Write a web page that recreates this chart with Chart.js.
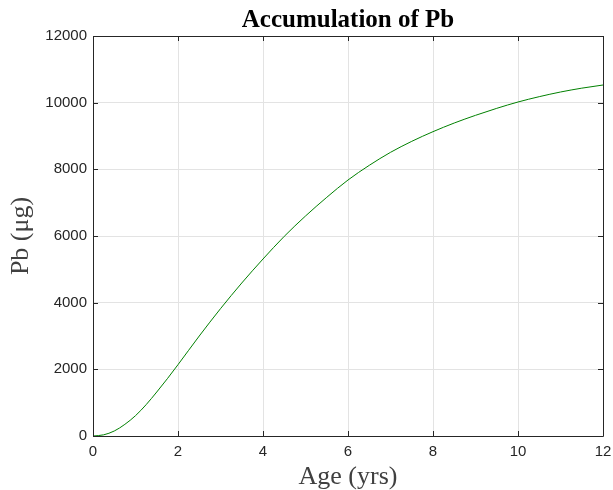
<!DOCTYPE html>
<html>
<head>
<meta charset="utf-8">
<script src="https://cdn.jsdelivr.net/npm/chart.js@4.4.1/dist/chart.umd.min.js"></script>
<style>
  html, body { margin: 0; padding: 0; background: #ffffff; }
  #wrap { width: 613px; height: 490px; position: relative; }
</style>
</head>
<body>
<div id="wrap"><canvas id="c" width="613" height="490"></canvas></div>
<script>
// ---- data ----
const ageYears = [0, 0.25, 0.5, 0.75, 1, 1.25, 1.5, 1.75, 2, 2.5, 3, 3.5, 4, 4.5, 5, 5.5, 6, 6.5, 7, 7.5, 8, 8.5, 9, 9.5, 10, 10.5, 11, 11.5, 12];
const leadUg   = [0, 35, 150, 350, 610, 940, 1320, 1720, 2140, 3000, 3820, 4590, 5310, 5990, 6600, 7160, 7680, 8120, 8510, 8840, 9130, 9390, 9620, 9830, 10020, 10180, 10320, 10435, 10530];
const xTicks = [0, 2, 4, 6, 8, 10, 12];
const yTicks = [0, 2000, 4000, 6000, 8000, 10000, 12000];

const chartTitle = 'Accumulation of Pb';
const xTitle = 'Age (yrs)';
const yTitle = 'Pb (\u03BCg)';

const axisColor = '#262626';
const gridColor = '#e3e3e3';

const points = ageYears.map((a, i) => ({ x: a, y: leadUg[i] }));

// draws the closed MATLAB-style box and inward tick marks on all four sides
const boxPlugin = {
  id: 'box',
  afterDraw(chart) {
    const { ctx, chartArea: a, scales } = chart;
    ctx.save();
    ctx.strokeStyle = axisColor;
    ctx.lineWidth = 1;
    ctx.beginPath();
    ctx.rect(Math.round(a.left) + 0.5, Math.round(a.top) + 0.5,
             Math.round(a.right - a.left), Math.round(a.bottom - a.top));
    ctx.stroke();
    const len = 5;
    ctx.beginPath();
    xTicks.forEach(v => {
      const px = Math.round(scales.x.getPixelForValue(v)) + 0.5;
      ctx.moveTo(px, a.bottom); ctx.lineTo(px, a.bottom - len);
      ctx.moveTo(px, a.top); ctx.lineTo(px, a.top + len);
    });
    yTicks.forEach(v => {
      const py = Math.round(scales.y.getPixelForValue(v)) + 0.5;
      ctx.moveTo(a.left, py); ctx.lineTo(a.left + len, py);
      ctx.moveTo(a.right, py); ctx.lineTo(a.right - len, py);
    });
    ctx.stroke();
    ctx.restore();
  }
};

new Chart(document.getElementById('c'), {
  type: 'line',
  data: {
    datasets: [{
      data: points,
      borderColor: '#008000',
      borderWidth: 1,
      pointRadius: 0,
      fill: false,
      cubicInterpolationMode: 'monotone'
    }]
  },
  options: {
    responsive: false,
    animation: false,
    layout: { padding: 0 },
    plugins: {
      legend: { display: false },
      tooltip: { enabled: false },
      title: {
        display: true,
        fullSize: false,
        text: chartTitle,
        color: '#000000',
        font: { family: '"Liberation Serif", "Times New Roman", serif', size: 25, weight: 'bold', lineHeight: 1.2 },
        padding: { top: 6, bottom: 0 }
      }
    },
    scales: {
      x: {
        type: 'linear',
        min: 0, max: 12,
        afterFit(s) { s.height = 54; s.paddingRight = 10; s.paddingLeft = 0; },
        afterBuildTicks(s) { s.ticks = xTicks.map(v => ({ value: v })); },
        ticks: {
          color: axisColor,
          padding: 7,
          font: { family: '"Liberation Sans", Arial, sans-serif', size: 15 },
          callback: v => String(v)
        },
        grid: { color: gridColor, drawTicks: false, tickLength: 0 },
        border: { display: false },
        title: {
          display: true,
          text: xTitle,
          color: '#404040',
          font: { family: '"Liberation Serif", "Times New Roman", serif', size: 26, lineHeight: 1 },
          padding: { top: 0, bottom: 0 }
        }
      },
      y: {
        type: 'linear',
        min: 0, max: 12000,
        afterFit(s) { s.width = 93; s.paddingTop = 0; s.paddingBottom = 0; },
        afterBuildTicks(s) { s.ticks = yTicks.map(v => ({ value: v })); },
        ticks: {
          color: axisColor,
          padding: 6,
          font: { family: '"Liberation Sans", Arial, sans-serif', size: 15 },
          callback: v => String(v)
        },
        grid: { color: gridColor, drawTicks: false, tickLength: 0 },
        border: { display: false },
        title: {
          display: true,
          text: yTitle,
          color: '#404040',
          font: { family: '"Liberation Serif", "Times New Roman", serif', size: 26, lineHeight: 1.2 },
          padding: { top: 6, bottom: 0 }
        }
      }
    }
  },
  plugins: [boxPlugin]
});
</script>
</body>
</html>
